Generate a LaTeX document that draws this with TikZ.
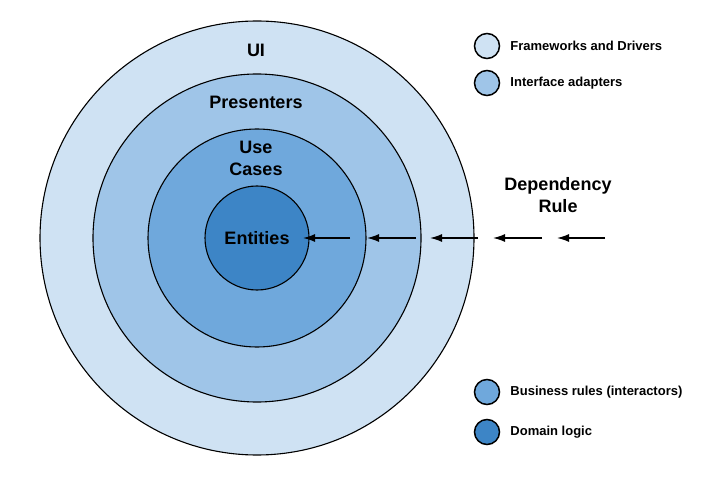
\documentclass[tikz,border=0pt]{standalone}
\usepackage{fontspec}
\setmainfont{Liberation Sans}
\usetikzlibrary{positioning,arrows.meta}
\definecolor{fwblue}{HTML}{CFE2F3}
\definecolor{iablue}{HTML}{9FC5E8}
\definecolor{brblue}{HTML}{6FA8DC}
\definecolor{dlblue}{HTML}{3D85C6}
\tikzset{
  ring/.style={circle, draw, line width=1.1pt, inner sep=0pt},
  ringlabel/.style={font=\bfseries\fontsize{18}{22}\selectfont, align=center, inner sep=0pt},
  legenddot/.style={circle, draw, line width=1.5pt, minimum size=25pt, inner sep=0pt},
  legendtext/.style={font=\bfseries\fontsize{13}{15}\selectfont, inner sep=0pt},
  rulearrow/.style={-{Latex[length=12pt,width=8pt]}, line width=1.4pt}
}
\begin{document}
\begin{tikzpicture}[x=1pt,y=1pt]
  \useasboundingbox (0,0) rectangle (706,477);
  \coordinate (c) at (257,239);
  \node[ring, fill=fwblue, minimum size=434pt] (ui) at (c) {};
  \node[ring, fill=iablue, minimum size=328pt] (presenters) at (c) {};
  \node[ring, fill=brblue, minimum size=218pt] (usecases) at (c) {};
  \node[ring, fill=dlblue, minimum size=104pt, ringlabel] (entities) at (c) {Entities};
  \node[ringlabel] (uilabel) at (256,427) {UI};
  \node[ringlabel] (presenterslabel) at (256,375) {Presenters};
  \node[ringlabel, anchor=south] (usecaseslabel) at (256,301) {Use\\Cases};
  \node[ringlabel, anchor=south] (rulelabel) at (558,264) {Dependency\\Rule};
  % dependency rule arrows
  \coordinate (t1) at (350,239); \coordinate (h1) at (303,239);
  \coordinate (t2) at (416,239); \coordinate (h2) at (367,239);
  \coordinate (t3) at (478,239); \coordinate (h3) at (430,239);
  \coordinate (t4) at (542,239); \coordinate (h4) at (493,239);
  \coordinate (t5) at (605,239); \coordinate (h5) at (557,239);
  \begin{scope}[rulearrow]
    \draw (t1) to (h1);
    \draw (t2) to (h2);
    \draw (t3) to (h3);
    \draw (t4) to (h4);
    \draw (t5) to (h5);
  \end{scope}
  % legend
  \node[legenddot, fill=fwblue] (fw) at (487,431) {};
  \node[legenddot, fill=iablue] (ia) at (487,394) {};
  \node[legenddot, fill=brblue] (br) at (487,85) {};
  \node[legenddot, fill=dlblue] (dl) at (487,45) {};
  \node[legendtext, right=10pt of fw] (fwtext) {Frameworks and Drivers};
  \node[legendtext, right=10pt of ia] (iatext) {Interface adapters};
  \node[legendtext, right=10pt of br] (brtext) {Business rules (interactors)};
  \node[legendtext, right=10pt of dl] (dltext) {Domain logic};
\end{tikzpicture}
\end{document}
